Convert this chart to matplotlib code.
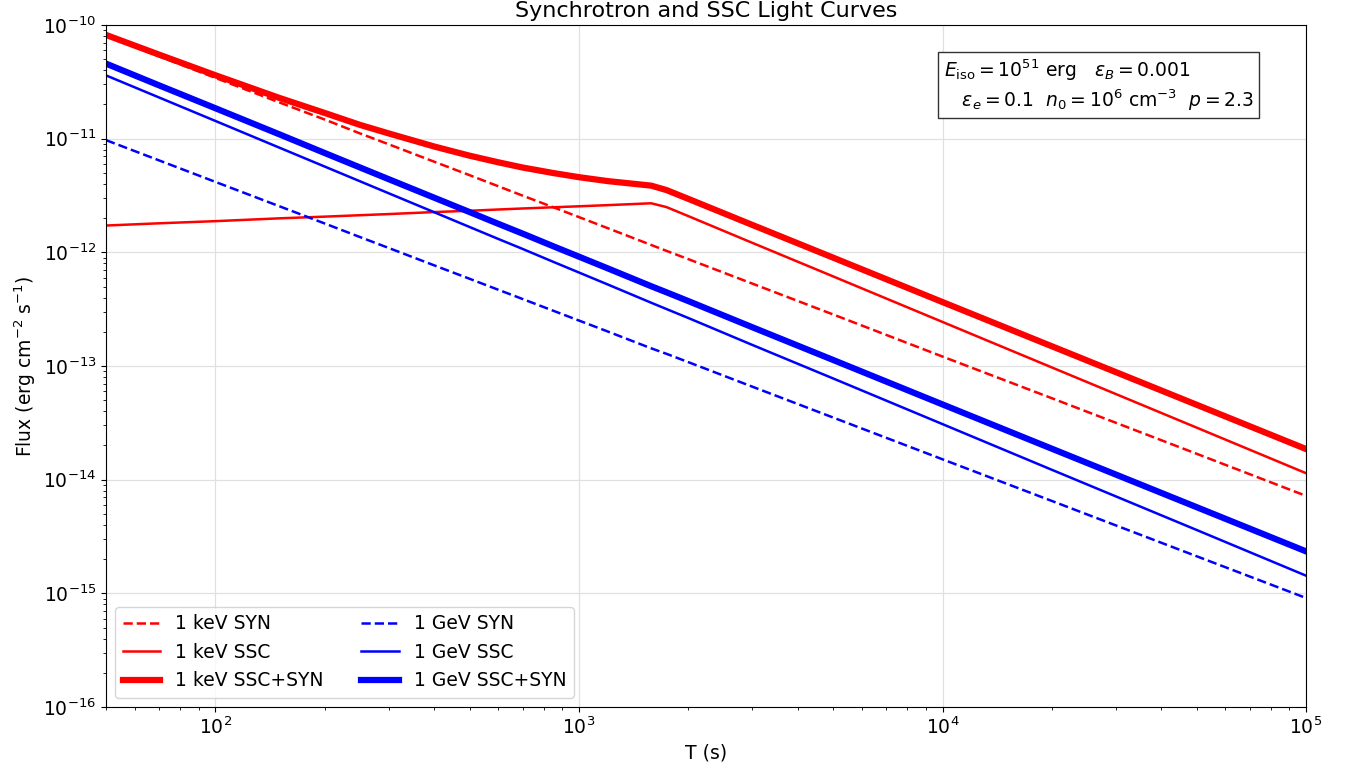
import numpy as np
import matplotlib
matplotlib.use('Agg')
import matplotlib.pyplot as plt

# observer time grid (s)
T = [50, 70, 100, 150, 200, 250, 300, 400, 500, 600, 700, 850, 1000, 1200,
     1580, 1740, 2000, 3000, 5000, 1e4, 2e4, 5e4, 1e5]

# 1 keV band
syn_kev = [8.0e-11, 5.3e-11, 3.42e-11, 2.08e-11, 1.47e-11, 1.11e-11, 8.9e-12,
           6.26e-12, 4.77e-12, 3.81e-12, 3.15e-12, 2.49e-12, 2.04e-12, 1.63e-12,
           1.16e-12, 1.03e-12, 8.7e-13, 5.3e-13, 2.84e-13, 1.21e-13, 5.2e-14,
           1.69e-14, 7.2e-15]
ssc_kev = [1.72e-12, 1.80e-12, 1.88e-12, 1.99e-12, 2.06e-12, 2.12e-12, 2.17e-12,
           2.26e-12, 2.32e-12, 2.38e-12, 2.43e-12, 2.49e-12, 2.54e-12, 2.60e-12,
           2.70e-12, 2.50e-12, 2.08e-12, 1.21e-12, 6.14e-13, 2.44e-13, 9.7e-14,
           2.87e-14, 1.14e-14]
tot_kev = [8.17e-11, 5.48e-11, 3.61e-11, 2.28e-11, 1.68e-11, 1.32e-11, 1.11e-11,
           8.52e-12, 7.08e-12, 6.19e-12, 5.57e-12, 4.98e-12, 4.58e-12, 4.23e-12,
           3.86e-12, 3.53e-12, 2.95e-12, 1.74e-12, 8.98e-13, 3.65e-13, 1.49e-13,
           4.56e-14, 1.86e-14]

# 1 GeV band
syn_gev = [9.7e-12, 6.43e-12, 4.16e-12, 2.54e-12, 1.79e-12, 1.36e-12, 1.09e-12,
           7.67e-13, 5.85e-13, 4.68e-13, 3.88e-13, 3.06e-13, 2.51e-13, 2.01e-13,
           1.43e-13, 1.28e-13, 1.08e-13, 6.57e-14, 3.52e-14, 1.51e-14, 6.49e-15,
           2.12e-15, 9.1e-16]
ssc_gev = [3.6e-11, 2.30e-11, 1.43e-11, 8.32e-12, 5.67e-12, 4.21e-12, 3.30e-12,
           2.25e-12, 1.67e-12, 1.31e-12, 1.07e-12, 8.24e-13, 6.64e-13, 5.21e-13,
           3.60e-13, 3.17e-13, 2.64e-13, 1.53e-13, 7.77e-14, 3.08e-14, 1.22e-14,
           3.61e-15, 1.43e-15]
tot_gev = [4.57e-11, 2.94e-11, 1.85e-11, 1.09e-11, 7.46e-12, 5.57e-12, 4.39e-12,
           3.02e-12, 2.26e-12, 1.78e-12, 1.46e-12, 1.13e-12, 9.15e-13, 7.22e-13,
           5.03e-13, 4.45e-13, 3.72e-13, 2.19e-13, 1.13e-13, 4.59e-14, 1.87e-14,
           5.73e-15, 2.34e-15]

fs = 13.5

fig, ax = plt.subplots(figsize=(13.51, 7.73), dpi=100)
fig.subplots_adjust(left=0.0785, right=0.9667, top=0.9677, bottom=0.0854)

ax.loglog(T, syn_kev, 'r--', lw=1.8, label='1 keV SYN')
ax.loglog(T, ssc_kev, 'r-', lw=1.8, label='1 keV SSC')
ax.loglog(T, tot_kev, 'r-', lw=4.5, label='1 keV SSC+SYN')
ax.loglog(T, syn_gev, 'b--', lw=1.8, label='1 GeV SYN')
ax.loglog(T, ssc_gev, 'b-', lw=1.8, label='1 GeV SSC')
ax.loglog(T, tot_gev, 'b-', lw=4.5, label='1 GeV SSC+SYN')

ax.set_xlim(50, 1e5)
ax.set_ylim(1e-16, 1e-10)
ax.grid(True, which='major', color='#e0e0e0', lw=0.9)
ax.tick_params(labelsize=fs)
ax.set_xlabel('T (s)', fontsize=fs)
ax.set_ylabel(r'Flux (erg cm$^{-2}$ s$^{-1}$)', fontsize=fs)
ax.set_title('Synchrotron and SSC Light Curves', fontsize=16)

ax.legend(loc='lower left', ncol=2, fontsize=fs)

txt = (r'$E_{\rm iso}=10^{51}$ erg   $\epsilon_B=0.001$' + '\n'
       r'   $\epsilon_e=0.1$  $n_0=10^6$ cm$^{-3}$  $p=2.3$')
ax.text(0.698, 0.952, txt, transform=ax.transAxes, ha='left', va='top',
        fontsize=fs, bbox=dict(boxstyle='square,pad=0.3', fc='white', ec='#333333'))

plt.savefig('out.png')
